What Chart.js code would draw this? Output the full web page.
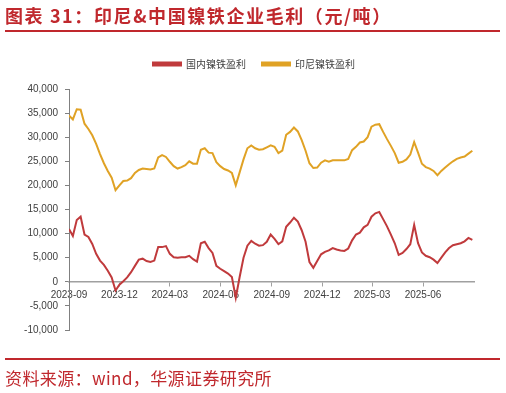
<!DOCTYPE html>
<html><head><meta charset="utf-8">
<script src="https://cdn.jsdelivr.net/npm/chart.js@4.4.1/dist/chart.umd.min.js"></script>
<style>
html,body{margin:0;padding:0;background:#fff;}
#wrap{position:relative;width:506px;height:393px;overflow:hidden;background:#fff;}
#title{position:absolute;left:5px;top:4px;font-family:"Noto Sans CJK SC";font-weight:700;font-size:18px;line-height:22px;color:#C0282D;letter-spacing:1.6px;white-space:nowrap;}
#tline{position:absolute;left:5px;top:30px;width:495px;height:2px;background:#C0282D;}
#fline{position:absolute;left:5px;top:358px;width:495px;height:2px;background:#C0282D;}
#foot{position:absolute;left:5px;top:367px;font-family:"Noto Sans CJK SC";font-weight:400;font-size:17px;line-height:22px;color:#C0282D;letter-spacing:0.4px;white-space:nowrap;}
#c{position:absolute;left:0;top:0;}
</style></head>
<body>
<div id="wrap">
<canvas id="c" width="506" height="393"></canvas>
<div id="title">图表 31：印尼&amp;中国镍铁企业毛利（元/吨）</div>
<div id="tline"></div>
<div id="fline"></div>
<div id="foot">资料来源：wind，华源证券研究所</div>
</div>
<script>
const dates = [
'2023-09-01','2023-09-08','2023-09-15','2023-09-22','2023-09-29','2023-10-06','2023-10-13','2023-10-20','2023-10-27','2023-11-03',
'2023-11-10','2023-11-17','2023-11-24','2023-12-01','2023-12-08','2023-12-15','2023-12-22','2023-12-29','2024-01-05','2024-01-12',
'2024-01-19','2024-01-26','2024-02-02','2024-02-09','2024-02-16','2024-02-23','2024-03-01','2024-03-08','2024-03-15','2024-03-22',
'2024-03-29','2024-04-05','2024-04-12','2024-04-19','2024-04-26','2024-05-03','2024-05-10','2024-05-17','2024-05-24','2024-05-31',
'2024-06-07','2024-06-14','2024-06-21','2024-06-28','2024-07-05','2024-07-12','2024-07-19','2024-07-26','2024-08-02','2024-08-09',
'2024-08-16','2024-08-23','2024-08-30','2024-09-06','2024-09-13','2024-09-20','2024-09-27','2024-10-04','2024-10-11','2024-10-18',
'2024-10-25','2024-11-01','2024-11-08','2024-11-15','2024-11-22','2024-11-29','2024-12-06','2024-12-13','2024-12-20','2024-12-27',
'2025-01-03','2025-01-10','2025-01-17','2025-01-24','2025-01-31','2025-02-07','2025-02-14','2025-02-21','2025-02-28','2025-03-07',
'2025-03-14','2025-03-21','2025-03-28','2025-04-04','2025-04-11','2025-04-18','2025-04-25','2025-05-02','2025-05-09','2025-05-16',
'2025-05-23','2025-05-30','2025-06-06','2025-06-13','2025-06-20','2025-06-27','2025-07-04','2025-07-11','2025-07-18','2025-07-25',
'2025-08-01','2025-08-08','2025-08-15','2025-08-22','2025-08-29'
];
const chinaProfit = [
10970, 9500, 12800, 13500, 9800, 9300, 7850, 5800, 4400, 3500,
2300, 900, -1800, -600, 100, 900, 2000, 3300, 4600, 4800,
4300, 4100, 4400, 7200, 7200, 7400, 5800, 5100, 5000, 5100,
5100, 5400, 4700, 4200, 8000, 8300, 7000, 6000, 3300, 2700,
2200, 1700, 1000, -3300, 1000, 5000, 7500, 8500, 7900, 7500,
7600, 8300, 9800, 8900, 7800, 8400, 11400, 12300, 13300, 12500,
10700, 8300, 4100, 2900, 4300, 5700, 6200, 6500, 7000, 6700,
6500, 6400, 6900, 8600, 9800, 10200, 11300, 11800, 13500, 14200,
14500, 13000, 11500, 9800, 8000, 5600, 6000, 6800, 7800, 11800,
8000, 6100, 5400, 5100, 4600, 3900, 5000, 6100, 7000, 7600,
7800, 8000, 8400, 9100, 8700
];
const indoProfit = [
34500, 33700, 35800, 35700, 32800, 31700, 30400, 28600, 26500, 24600,
23000, 21600, 19000, 20000, 20900, 21000, 21500, 22600, 23200, 23500,
23400, 23300, 23500, 25800, 26300, 25900, 24900, 24000, 23500, 23800,
24200, 25000, 24500, 24500, 27400, 27700, 26800, 26700, 24800, 24000,
23400, 23100, 22600, 20000, 22700, 25400, 27700, 28300, 27700, 27400,
27500, 27900, 28300, 28000, 26700, 27200, 30500, 31100, 32000, 31200,
29400, 27200, 24600, 23600, 23700, 24700, 25200, 24900, 25200, 25200,
25200, 25200, 25500, 27300, 28000, 28900, 29100, 30000, 32200, 32600,
32700, 31100, 29600, 28200, 26700, 24700, 24900, 25400, 26400, 29000,
26800, 24500, 23800, 23500, 23000, 22100, 23000, 23700, 24400, 25000,
25500, 25800, 26000, 26600, 27200
];
const seriesNames = ['国内镍铁盈利', '印尼镍铁盈利'];
const tickLabels = ['2023-09','2023-12','2024-03','2024-06','2024-09','2024-12','2025-03','2025-06'];
const startDate = '2023-09-01';
const endDate = '2025-09-01';

const dayOf = s => (Date.parse(s) - Date.parse(startDate)) / 86400000;
const toPts = vals => dates.map((d, i) => ({x: dayOf(d), y: vals[i]}));
const tickFont = {family: '"Liberation Sans", Arial, sans-serif', size: 10};

new Chart(document.getElementById('c'), {
  type: 'line',
  data: {
    datasets: [
      {label: seriesNames[0], data: toPts(chinaProfit), borderColor: '#C03A3C', backgroundColor: '#C03A3C', borderWidth: 2},
      {label: seriesNames[1], data: toPts(indoProfit), borderColor: '#E0A225', backgroundColor: '#E0A225', borderWidth: 2}
    ]
  },
  options: {
    responsive: false, animation: false, devicePixelRatio: 1,
    layout: {padding: {left: 19, right: 17, top: 43, bottom: 63}},
    elements: {point: {radius: 0}, line: {tension: 0}},
    plugins: {
      tooltip: {enabled: false},
      title: {display: true, text: '', weight: 500, padding: 0, font: {size: 10, lineHeight: 1}},
      legend: {display: true, position: 'top',
        labels: {boxWidth: 28, boxHeight: 3, padding: 16, color: '#404040',
          font: {family: '"Noto Sans CJK SC"', size: 10}}}
    },
    scales: {
      x: {
        type: 'linear', min: 0, max: dayOf(endDate), position: {y: 0},
        afterFit: s => { s.height = 0; },
        afterBuildTicks: s => { s.ticks = tickLabels.map(l => ({value: dayOf(l + '-01')})); },
        ticks: {autoSkip: false, maxRotation: 0, padding: 3, color: '#404040', font: tickFont,
          callback: (v, i) => tickLabels[i]},
        grid: {display: true, drawOnChartArea: false, drawTicks: true, tickLength: 4, color: '#A0A0A0'},
        border: {display: true, color: '#A0A0A0', width: 1.5}
      },
      y: {
        min: -10000, max: 40000,
        afterFit: s => { s.width = 50; },
        ticks: {stepSize: 5000, padding: 7, color: '#404040', font: tickFont,
          callback: v => v.toLocaleString('en-US')},
        grid: {display: true, drawOnChartArea: false, drawTicks: true, tickLength: 4, color: '#808080'},
        border: {display: true, color: '#808080', width: 1}
      },
      ySpacer: {
        type: 'linear', position: 'right', display: true,
        afterFit: s => { s.width = 15; },
        ticks: {display: false},
        grid: {display: false},
        border: {display: false}
      }
    }
  }
});
</script>
</body></html>
